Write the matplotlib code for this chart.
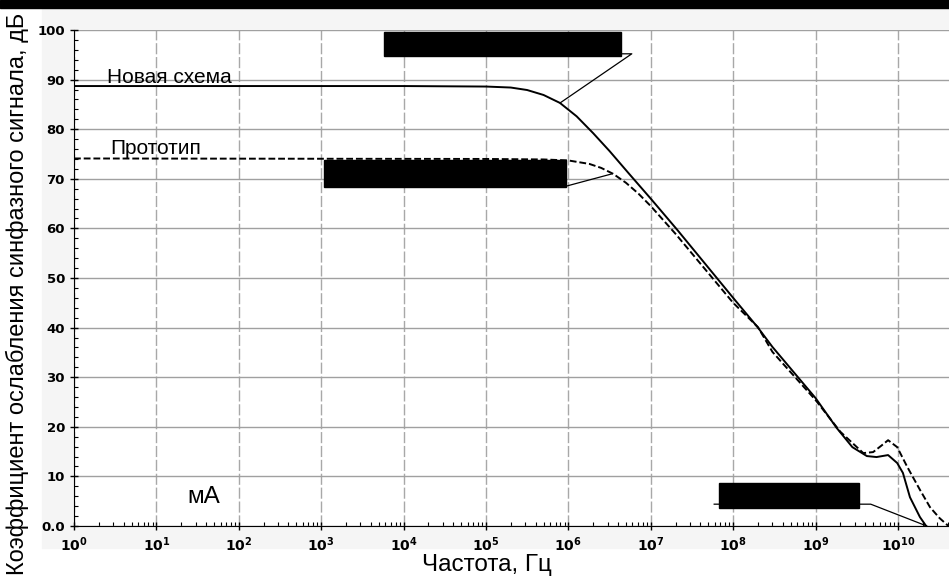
import matplotlib
matplotlib.use('Agg')
import matplotlib.pyplot as plt
from matplotlib.patches import Rectangle
from matplotlib.ticker import FixedLocator, LogLocator, FuncFormatter

plt.rcParams['font.family'] = ['Liberation Sans', 'DejaVu Sans']
plt.rcParams['mathtext.default'] = 'bf'

# curve data
new_freq = [1, 1e4, 1e5, 2e5, 3.16e5, 5e5, 7.9e5, 1.26e6, 2e6, 3.16e6, 5.6e6,
            1e7, 2.1e7, 1e8, 2e8, 3e8, 1e9, 1.8e9, 2.8e9, 4.2e9, 5.5e9, 7.6e9,
            9.8e9, 1.15e10, 1.4e10, 1.85e10, 2.2e10]
new_db = [88.7, 88.7, 88.6, 88.4, 87.9, 86.9, 85.3, 82.6, 79.2, 75.6, 70.8,
          66.0, 59.7, 46.0, 40.0, 36.1, 25.8, 19.8, 15.9, 14.1, 13.9, 14.3,
          12.7, 10.7, 5.8, 1.8, 0.0]

proto_freq = [1, 1e5, 5e5, 1e6, 1.8e6, 2.5e6, 3.5e6, 5e6, 7.1e6, 1e7, 2e7,
              1e8, 2e8, 3e8, 1e9, 2e9, 3.8e9, 5e9, 6.3e9, 7.6e9, 9.8e9, 1.3e10,
              1.85e10, 2.45e10, 3.2e10, 4.1e10]
proto_db = [74.1, 74.0, 73.9, 73.7, 73.0, 72.2, 71.0, 69.2, 67.0, 64.5, 58.9,
            45.0, 40.1, 35.1, 25.4, 19.0, 14.7, 14.9, 16.2, 17.3, 15.9, 11.9,
            7.3, 3.8, 1.6, 0.0]

y_ticks = [0, 10, 20, 30, 40, 50, 60, 70, 80, 90, 100]
x_ticks = [1e0, 1e1, 1e2, 1e3, 1e4, 1e5, 1e6, 1e7, 1e8, 1e9, 1e10]

# blacked-out callout boxes: (x0, x1, y0, y1)
boxes = [(10**3.76, 10**6.64, 94.8, 99.6),
         (10**3.03, 10**5.97, 68.3, 73.8),
         (10**7.83, 10**9.53, 3.6, 8.7)]
# leader lines
leaders = [([10**6.64, 10**6.77, 10**5.90], [95.2, 95.2, 85.3]),
           ([10**5.97, 10**6.53], [68.5, 71.0]),
           ([10**7.77, 10**9.67, 10**10.35], [4.4, 4.4, 0.0])]

fig = plt.figure(figsize=(9.49, 5.85), dpi=100)
fig.patch.set_facecolor('white')
# light panel behind the plot and top black bar
fig.patches.append(Rectangle((42 / 949, 37 / 585), 1 - 42 / 949, 540 / 585,
                             transform=fig.transFigure, color='#f5f5f5', zorder=-10))
fig.patches.append(Rectangle((0, 577 / 585), 1, 8 / 585,
                             transform=fig.transFigure, color='black', zorder=-5))

ax = fig.add_axes([74 / 949, 59 / 585, 875 / 949, 496 / 585])
ax.set_facecolor('white')
ax.set_xscale('log')
ax.set_xlim(1, 10**10.62)
ax.set_ylim(0, 100)

ax.plot(new_freq, new_db, color='black', lw=1.4, zorder=3)
ax.plot(proto_freq, proto_db, color='black', lw=1.4, linestyle=(0, (3.5, 1.5)), zorder=3)

for x0, x1, y0, y1 in boxes:
    ax.add_patch(Rectangle((x0, y0), x1 - x0, y1 - y0, color='black', zorder=4))
for xs, ys in leaders:
    ax.plot(xs, ys, color='black', lw=0.9, zorder=4)

ax.text(2.5, 89.3, 'Новая схема', fontsize=15, va='baseline', ha='left')
ax.text(2.74, 75.0, 'Прототип', fontsize=15, va='baseline', ha='left')
ax.text(38, 5.9, 'мА', fontsize=17.5, va='center', ha='center')

ax.yaxis.set_major_locator(FixedLocator(y_ticks))
ax.yaxis.set_minor_locator(FixedLocator(range(0, 101, 2)))
ax.yaxis.set_major_formatter(FuncFormatter(lambda v, p: '0.0' if v == 0 else '%d' % v))
ax.xaxis.set_major_locator(FixedLocator(x_ticks))
ax.xaxis.set_minor_locator(LogLocator(base=10, subs=range(2, 10), numticks=20))

ax.grid(True, which='major', axis='y', color='#a0a0a0', lw=1, linestyle='-')
ax.grid(True, which='major', axis='x', color='#a8a8a8', lw=1, linestyle=(0, (8, 2)))
ax.set_axisbelow(True)

ax.tick_params(which='major', direction='inout', length=6, width=1)
ax.tick_params(axis='y', which='major', labelsize=9.5)
ax.tick_params(axis='x', which='major', labelsize=10)
ax.tick_params(which='minor', direction='in', length=3, width=0.8)
for lab in ax.get_xticklabels() + ax.get_yticklabels():
    lab.set_fontweight('bold')
    lab.set_fontfamily('DejaVu Sans')

for s in ['top', 'right']:
    ax.spines[s].set_visible(False)

ax.set_xlabel('Частота, Гц', fontsize=17.5)
ax.set_ylabel('Коэффициент ослабления синфазного сигнала, дБ', fontsize=17)
ax.xaxis.set_label_coords((487 - 74) / 875, -0.079)
ax.yaxis.set_label_coords((17 - 74) / 875, (526 - 294) / 496)
ax.yaxis.label.set_va('center')
ax.xaxis.label.set_va('center')

fig.savefig('out.png', dpi=100)
